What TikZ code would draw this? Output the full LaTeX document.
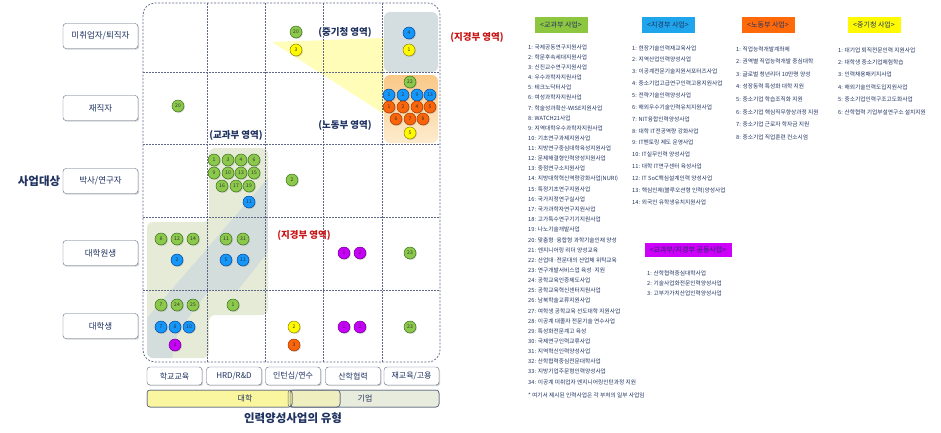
\documentclass[tikz,border=0pt]{standalone}
\usepackage{fontspec}
\setmainfont{Noto Sans CJK KR}
\usetikzlibrary{positioning, shadows, backgrounds}

\definecolor{navy}{RGB}{31,50,96}
\definecolor{boxline}{RGB}{90,100,125}
\definecolor{gridc}{RGB}{95,105,135}
\definecolor{areared}{RGB}{200,20,20}
\definecolor{kgreen}{RGB}{140,200,75}
\definecolor{kgreenD}{RGB}{55,110,25}
\definecolor{jblue}{RGB}{20,150,250}
\definecolor{jblueD}{RGB}{0,70,150}
\definecolor{lorange}{RGB}{250,100,10}
\definecolor{lorangeD}{RGB}{160,55,0}
\definecolor{syellow}{RGB}{255,250,0}
\definecolor{syellowD}{RGB}{140,130,0}
\definecolor{cmag}{RGB}{200,0,250}
\definecolor{cmagD}{RGB}{100,0,130}
\definecolor{hgreen}{RGB}{141,198,63}
\definecolor{hblue}{RGB}{30,165,235}
\definecolor{horange}{RGB}{255,105,10}
\definecolor{hyellow}{RGB}{255,250,0}
\definecolor{hmag}{RGB}{205,0,250}
\definecolor{kgarea}{RGB}{230,235,216}
\definecolor{kgband}{RGB}{188,204,224}
\definecolor{jgarea}{RGB}{212,222,224}

\tikzset{
    catbox/.style={
        rectangle,
        rounded corners=3pt,
        draw=boxline,
        fill=white,
        text=navy,
        inner sep=1pt,
        font=\fontsize{8.5}{9}\selectfont,
        drop shadow={shadow xshift=1.2pt, shadow yshift=-1.2pt, opacity=0.35}
    },
    numdot/.style={
        circle,
        minimum size=12pt,
        inner sep=0pt,
        line width=0.5pt,
        font=\fontsize{5}{5}\selectfont,
        text=black!80,
        drop shadow={shadow xshift=0.8pt, shadow yshift=-0.8pt, opacity=0.35}
    },
    kdot/.style={numdot, fill=kgreen, draw=kgreenD},
    jdot/.style={numdot, fill=jblue, draw=jblueD},
    ldot/.style={numdot, fill=lorange, draw=lorangeD},
    sdot/.style={numdot, fill=syellow, draw=syellowD},
    cdot/.style={numdot, fill=cmag, draw=cmagD}
}

\begin{document}
\begin{tikzpicture}[
    x=1pt, y=-1pt,
    areatext/.style={font=\bfseries\fontsize{9.5}{10}\selectfont, text=navy, inner sep=0pt},
    bigtext/.style={font=\bfseries\fontsize{11.5}{12}\selectfont, text=navy, inner sep=0pt},
    listline/.style={anchor=west, inner sep=0pt, text=navy, font=\fontsize{5.7}{6}\selectfont},
    legendhead/.style={rectangle, minimum width=53pt, minimum height=16pt, inner sep=1pt,
        text=navy, font=\fontsize{7}{8}\selectfont},
    gridline/.style={draw=gridc, line width=0.6pt, dash pattern=on 1.5pt off 1.5pt},
    bar/.style={rounded corners=3pt, draw=boxline, line width=0.5pt}
]
\useasboundingbox (0,0) rectangle (941,432);

% shaded areas
\fill[kgarea, rounded corners=6pt] (147,222) -- (209,222) -- (209,148) -- (268,148) -- (268,315)
    -- (209,315) -- (209,358) -- (147,358) -- cycle;
\begin{scope}
    \clip[rounded corners=6pt] (147,222) -- (209,222) -- (209,148) -- (268,148) -- (268,315)
        -- (209,315) -- (209,358) -- (147,358) -- cycle;
    \fill[kgband, opacity=0.45] (147,358) -- (147,318) -- (268,178) -- (268,252) -- (238,290)
        -- (209,290) -- (178,332) -- (172,358) -- cycle;
\end{scope}
\fill[syellow!35, opacity=0.8] (272,42) -- (384,38) -- (384,114) -- cycle;
\fill[jgarea, rounded corners=6pt] (384,12) rectangle (438,72);
\shade[rounded corners=6pt, top color={rgb,255:red,250;green,200;blue,135},
    bottom color={rgb,255:red,253;green,236;blue,205}] (384,75) rectangle (438,143);

% grid
\draw[gridc, line width=0.7pt, dash pattern=on 2pt off 1.5pt, rounded corners=12pt] (143,3) rectangle (440,362);
\foreach \x in {207,265,323,382}
    \draw[gridline] (\x,3) -- (\x,362);
\foreach \y in {72,144,217,290}
    \draw[gridline] (143,\y) -- (440,\y);

% row labels
\node[bigtext] (target) at (39,181) {사업대상};
\node[catbox, minimum width=75pt, minimum height=25pt] (rowA) at (100.5,36) {미취업자/퇴직자};
\node[catbox, minimum width=75pt, minimum height=25pt] (rowB) at (100.5,108) {재직자};
\node[catbox, minimum width=75pt, minimum height=25pt] (rowC) at (100.5,181) {박사/연구자};
\node[catbox, minimum width=75pt, minimum height=25pt] (rowD) at (100.5,253) {대학원생};
\node[catbox, minimum width=75pt, minimum height=25pt] (rowE) at (100.5,326) {대학생};

% column labels
\node[catbox, minimum width=55pt, minimum height=18pt, font=\fontsize{8}{9}\selectfont] (colA) at (174.5,376) {학교교육};
\node[catbox, minimum width=55pt, minimum height=18pt, font=\fontsize{8}{9}\selectfont] (colB) at (234,376) {HRD/R\&D};
\node[catbox, minimum width=55pt, minimum height=18pt, font=\fontsize{8}{9}\selectfont] (colC) at (293,376) {인턴십/연수};
\node[catbox, minimum width=55pt, minimum height=18pt, font=\fontsize{8}{9}\selectfont] (colD) at (353,376) {산학협력};
\node[catbox, minimum width=55pt, minimum height=18pt, font=\fontsize{8}{9}\selectfont] (colE) at (411.5,376) {재교육/고용};

% university / company bars
\fill[bar, fill={rgb,255:red,232;green,236;blue,220}] (290,390) rectangle (439,407);
\fill[bar, fill={rgb,255:red,238;green,238;blue,190}] (288,390) rectangle (340,407);
\fill[bar, fill={rgb,255:red,250;green,246;blue,160}] (147,390) rectangle (292,407);
\draw[bar] (290,390) rectangle (439,407);
\draw[bar] (288,390) rectangle (340,407);
\draw[bar] (147,390) rectangle (292,407);
\node[text=navy, font=\fontsize{8}{9}\selectfont] (univ) at (245,398.5) {대학};
\node[text=navy, font=\fontsize{8}{9}\selectfont] (firm) at (365,398.5) {기업};
\node[bigtext] (kind) at (293,418) {인력양성사업의 유형};

% area labels
\node[areatext] (smbaArea) at (345,32) {(중기청 영역)};
\node[areatext] (molArea) at (345,125) {(노동부 영역)};
\node[areatext] (mestArea) at (236,135) {(교과부 영역)};
\node[areatext, text=areared] (mkeAreaA) at (477,37) {(지경부 영역)};
\node[areatext, text=areared] (mkeAreaB) at (304,235) {(지경부 영역)};

% programme dots
\foreach \n/\x/\y [count=\i] in {20/296/32, 20/178/106, 22/410/82,
    1/214/160, 3/228/160, 4/241/160, 6/254/160, 9/214/173, 10/228/173, 13/241/173, 15/254/173,
    16/222/186, 17/236/186, 19/249/186, 2/292/180,
    8/161/239, 12/177/239, 14/193/239, 11/226/239, 31/243/239,
    7/161/305, 24/177/305, 25/193/305, 1/233/305, 23/410/253, 23/410/327}
    \node[kdot] (k\i) at (\x,\y) {\n};
\foreach \n/\x/\y [count=\i] in {4/409/33, 1/389/95, 2/403/95, 9/417/95, 13/430/95,
    11/249/202, 2/177/260, 5/226/260, 11/243/260, 7/161/327, 8/175/327, 10/189/327}
    \node[jdot] (j\i) at (\x,\y) {\n};
\foreach \n/\x/\y [count=\i] in {1/389/107, 2/403/107, 4/417/107, 5/430/107,
    6/396/119, 7/410/119, 8/423/119, 3/294/345}
    \node[ldot] (l\i) at (\x,\y) {\n};
\foreach \n/\x/\y [count=\i] in {3/296/50, 1/409/50, 5/410/133, 2/294/327}
    \node[sdot] (s\i) at (\x,\y) {\n};
\foreach \n/\x/\y [count=\i] in {1/344/253, 2/360/253, 1/344/327, 2/360/327, 3/175/345}
    \node[cdot] (c\i) at (\x,\y) {\n};

% legend
\node[legendhead, fill=hgreen] (mestHead) at (561,25) {<교과부 사업>};
\node[legendhead, fill=hblue] (mkeHead) at (668,25) {<지경부 사업>};
\node[legendhead, fill=horange] (molHead) at (768,25) {<노동부 사업>};
\node[legendhead, fill=hyellow] (smbaHead) at (874,25) {<중기청 사업>};
\node[legendhead, fill=hmag, minimum width=87pt, minimum height=14pt] (jointHead) at (688,250) {<교과부/지경부 공동사업>};

\foreach \t [count=\i] in {{1: 국제공동연구지원사업}, {2: 학문후속세대지원사업}, {3: 신진교수연구지원사업},
    {4: 우수과학자지원사업}, {5: 테크노닥터사업}, {6: 여성과학자지원사업}, {7: 학술성과확산-WISE지원사업},
    {8: WATCH21사업}, {9: 지역대학우수과학자지원사업}, {10: 기초연구과제지원사업},
    {11: 지방연구중심대학육성지원사업}, {12: 문제해결형인력양성지원사업}, {13: 중점연구소지원사업},
    {14: 지방대학혁신역량강화사업(NURI)}, {15: 특정기초연구지원사업}, {16: 국가지정연구실사업},
    {17: 국가과학자연구지원사업}, {18: 고가특수연구기기지원사업}, {19: 나노기술개발사업},
    {20: 맞춤형·융합형 과학기술인재 양성}, {21: 엔지니어링 리더 양성교육}, {22: 산업대·전문대의 산업체 위탁교육},
    {23: 연구개발서비스업 육성·지원}, {24: 공학교육인증제도사업}, {25: 공학교육혁신센터지원사업},
    {26: 남북학술교류지원사업}, {27: 여학생 공학교육 선도대학 지원사업}, {28: 이공계 대졸자 전문기술 연수사업},
    {29: 특성화전문계고 육성}, {30: 국제연구인력교류사업}, {31: 지역혁신인력양성사업},
    {32: 산학협력중심전문대학사업}, {33: 지방기업주문형인력양성사업}, {34: 이공계 미취업자 엔지니어링인턴과정 지원}}
    \node[listline] (mest\i) at (528,{36.85+10.15*\i}) {\t};

\foreach \t [count=\i] in {{1: 현장기술인력재교육사업}, {2: 지역산업인력양성사업}, {3: 이공계전문기술지원서포터즈사업},
    {4: 중소기업고급연구인력고용지원사업}, {5: 전략기술인력양성사업}, {6: 해외우수기술인력유치지원사업},
    {7: NIT융합인력양성사업}, {8: 대학 IT전공역량 강화사업}, {9: IT멘토링 제도 운영사업},
    {10: IT실무인력 양성사업}, {11: 대학 IT연구센터 육성사업}, {12: IT SoC핵심설계인력 양성사업},
    {13: 핵심인재(블루오션형 인력)양성사업}, {14: 외국인 유학생유치지원사업}}
    \node[listline] (mke\i) at (632,{36.15+11.85*\i}) {\t};

\foreach \t [count=\i] in {{1: 직업능력개발계좌제}, {2: 권역별 직업능력개발 중심대학}, {3: 글로벌 청년리더 10만명 양성},
    {4: 성장동력 특성화 대학 지원}, {5: 중소기업 학습조직화 지원}, {6: 중소기업 핵심직무향상과정 지원},
    {7: 중소기업 근로자 학자금 지원}, {8: 중소기업 직업훈련 컨소시엄}}
    \node[listline] (mol\i) at (736,{36.4+12.6*\i}) {\t};

\foreach \t [count=\i] in {{1: 대기업 퇴직전문인력 지원사업}, {2: 대학생 중소기업체험학습}, {3: 인력채용패키지사업},
    {4: 해외기술인력도입지원사업}, {5: 중소기업인력구조고도화사업}, {6: 산학협력 기업부설연구소 설치지원}}
    \node[listline] (smba\i) at (838,{37.6+12.4*\i}) {\t};

\foreach \t [count=\i] in {{1: 산학협력중심대학사업}, {2: 기술사업화전문인력양성사업}, {3: 고부가가치산업인력양성사업}}
    \node[listline] (joint\i) at (647,{263+10*\i}) {\t};

\node[listline] (note) at (528,395) {* 여기서 제시된 인력사업은 각 부처의 일부 사업임};

\end{tikzpicture}
\end{document}
